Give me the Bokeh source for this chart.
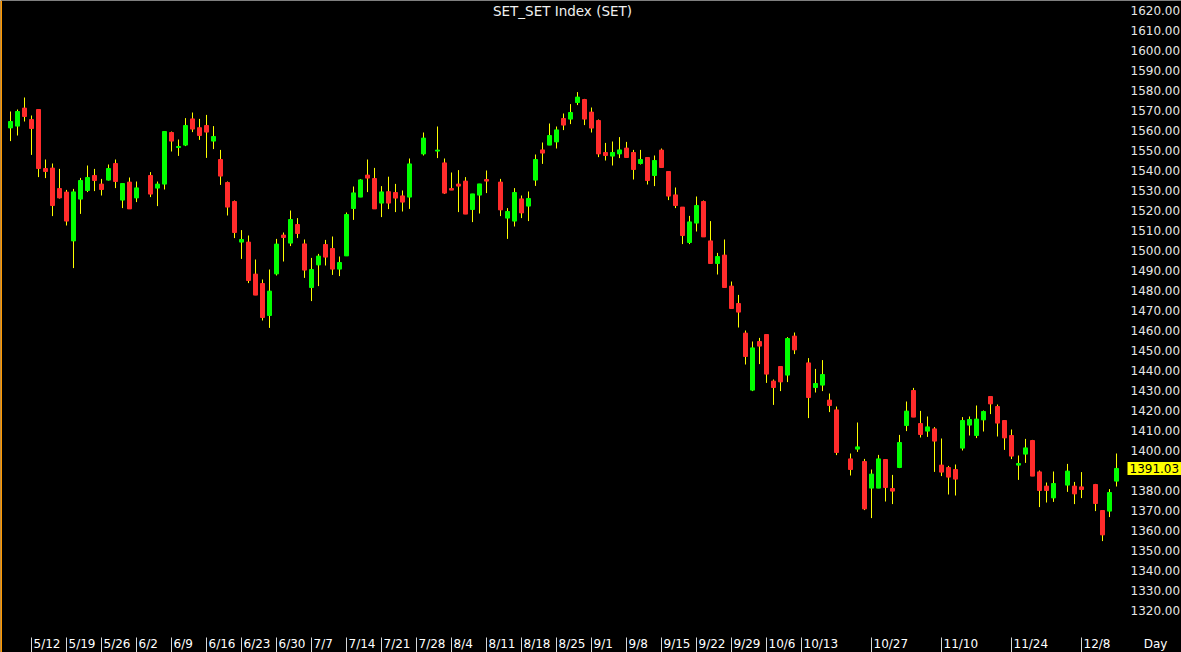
import numpy as np
import pandas as pd
from bokeh.plotting import figure
from bokeh.models import (Range1d, FixedTicker, PrintfTickFormatter, Label, Span,
                          ColumnDataSource, LinearAxis)
from bokeh.core.properties import value
from bokeh.embed import file_html
from bokeh.resources import INLINE

# ---------------- data ----------------
title_text = "SET_SET Index (SET)"
start_date = "2023-05-09"
end_date = "2023-12-15"
holidays = ["2023-06-05", "2023-07-28", "2023-08-01", "2023-08-14",
            "2023-10-13", "2023-10-23", "2023-12-05", "2023-12-11"]

opens = [1561.3, 1562.2, 1571.2, 1565.5, 1570.5, 1541.0, 1541.2, 1531.0, 1529.2, 1504.8,
         1525.7, 1530.0, 1537.5, 1533.2, 1535.2, 1543.5, 1525.2, 1534.2, 1526.3,
         1537.5, 1531.2, 1533.2, 1559.0, 1551.5, 1552.7, 1565.8, 1561.4, 1562.5, 1554.7,
         1545.5, 1534.0, 1524.5, 1504.2, 1504.2, 1488.2, 1483.5, 1467.5, 1488.3, 1507.7,
         1503.7, 1513.0, 1503.3, 1481.5, 1492.8, 1503.0, 1501.0, 1490.7, 1497.3, 1521.0,
         1526.7, 1537.7, 1536.0, 1523.7, 1529.4, 1529.0, 1527.3, 1526.7,
         1548.3,
         1549.7, 1543.8, 1531.0, 1533.2, 1534.7, 1520.5, 1527.7, 1535.5,
         1534.2, 1516.2, 1514.7, 1525.8, 1522.2, 1535.2, 1550.3, 1552.7, 1554.3, 1566.0,
         1565.7, 1574.0, 1575.5, 1569.2, 1565.0, 1549.0, 1547.2, 1548.3, 1551.2, 1549.0,
         1543.5, 1546.5, 1537.5, 1550.2, 1539.5, 1527.8, 1521.7, 1504.0, 1513.7, 1524.5,
         1504.8, 1493.5, 1497.7, 1482.2, 1473.5, 1458.7, 1430.2, 1454.5, 1458.0, 1434.7,
         1442.0, 1437.7, 1457.2,
         1443.8, 1431.5, 1432.7, 1425.2, 1420.3,
         1395.8, 1400.7, 1394.5, 1381.2, 1381.2, 1395.5, 1381.0, 1391.5, 1412.5, 1430.0,
         1413.5, 1409.7, 1410.8, 1392.7, 1391.5, 1390.5, 1401.2, 1412.7, 1407.5, 1415.3,
         1427.0, 1422.0, 1415.0, 1407.5, 1392.7, 1398.2, 1405.0, 1389.3, 1382.2, 1376.3,
         1382.7, 1382.2, 1381.8,
         1383.0, 1370.0, 1369.7, 1384.7]
highs = [1569.5, 1570.5, 1576.5, 1567.5, 1570.5, 1545.5, 1543.5, 1540.8, 1530.3, 1530.8,
         1536.3, 1542.5, 1540.8, 1535.8, 1543.0, 1545.5, 1533.5, 1536.5, 1534.5,
         1539.2, 1534.5, 1559.5, 1559.5, 1555.5, 1566.2, 1569.0, 1565.8, 1567.8, 1562.2,
         1550.3, 1534.5, 1525.0, 1510.2, 1507.5, 1495.5, 1485.5, 1490.5, 1505.8, 1509.0,
         1520.0, 1516.2, 1505.5, 1496.3, 1498.3, 1505.3, 1507.0, 1497.0, 1519.0, 1532.0,
         1535.7, 1545.5, 1541.3, 1532.2, 1536.9, 1533.3, 1530.0, 1546.0,
         1559.0,
         1562.0, 1546.0, 1539.0, 1540.2, 1536.7, 1528.3, 1533.3, 1540.0,
         1535.8, 1521.2, 1531.2, 1527.5, 1529.5, 1548.0, 1554.0, 1563.5, 1562.0, 1568.5,
         1573.2, 1579.2, 1575.8, 1571.5, 1565.5, 1553.8, 1554.5, 1556.7, 1554.3, 1550.3,
         1550.3, 1546.5, 1547.5, 1551.0, 1539.5, 1531.5, 1521.7, 1517.3, 1527.0, 1525.0,
         1514.7, 1498.8, 1505.5, 1484.5, 1477.8, 1460.0, 1454.5, 1456.3, 1458.0, 1435.5,
         1442.0, 1456.7, 1459.0,
         1446.2, 1440.8, 1445.2, 1428.5, 1422.0,
         1398.5, 1414.0, 1395.8, 1390.5, 1397.8, 1395.5, 1387.8, 1407.8, 1424.5, 1431.3,
         1419.8, 1417.0, 1411.7, 1406.0, 1392.3, 1393.0, 1416.7, 1417.0, 1422.5, 1420.0,
         1427.0, 1423.0, 1415.0, 1410.5, 1397.5, 1405.8, 1405.3, 1390.0, 1384.0, 1389.5,
         1393.3, 1384.3, 1389.2,
         1383.3, 1370.0, 1380.7, 1398.5]
lows = [1554.7, 1557.5, 1564.5, 1547.8, 1536.7, 1536.2, 1517.2, 1526.0, 1512.5, 1491.2,
        1518.3, 1529.2, 1529.7, 1527.5, 1535.0, 1531.2, 1521.2, 1520.8, 1524.2,
        1526.7, 1522.2, 1530.5, 1549.5, 1547.3, 1552.2, 1559.2, 1555.3, 1546.3, 1550.7,
        1532.8, 1517.5, 1506.2, 1495.8, 1483.7, 1477.7, 1465.0, 1461.3, 1487.5, 1494.5,
        1502.2, 1506.2, 1486.3, 1474.7, 1482.2, 1492.5, 1487.8, 1487.2, 1497.3, 1515.3,
        1526.7, 1529.2, 1520.8, 1516.7, 1520.7, 1519.2, 1519.5, 1520.8,
        1547.5,
        1546.2, 1528.3, 1530.2, 1519.2, 1518.2, 1514.2, 1518.5, 1528.7,
        1517.2, 1505.8, 1512.0, 1516.2, 1514.7, 1532.3, 1543.3, 1552.7, 1551.0, 1560.2,
        1563.2, 1572.7, 1562.7, 1559.0, 1546.7, 1545.0, 1542.5, 1546.2, 1546.5, 1535.5,
        1543.0, 1533.0, 1532.2, 1541.5, 1525.2, 1521.2, 1503.2, 1503.2, 1509.5, 1506.8,
        1493.5, 1488.0, 1481.5, 1471.0, 1461.5, 1443.0, 1429.7, 1443.2, 1433.8, 1422.8,
        1429.7, 1434.2, 1448.2,
        1416.2, 1429.0, 1429.7, 1419.2, 1397.7,
        1387.5, 1399.3, 1370.2, 1366.2, 1381.2, 1374.5, 1373.2, 1391.2, 1409.7, 1416.7,
        1406.5, 1406.8, 1389.3, 1387.2, 1378.0, 1377.5, 1400.0, 1407.5, 1406.2, 1409.5,
        1418.2, 1407.0, 1400.3, 1395.7, 1385.3, 1393.8, 1387.2, 1371.7, 1374.0, 1374.3,
        1379.3, 1373.2, 1376.2,
        1369.7, 1354.7, 1366.7, 1382.0]
closes = [1564.5, 1569.5, 1567.0, 1561.0, 1541.0, 1539.5, 1522.5, 1526.3, 1514.7, 1529.3,
          1535.0, 1536.5, 1535.0, 1530.5, 1541.0, 1534.5, 1533.5, 1520.8, 1531.3,
          1528.2, 1533.2, 1559.5, 1554.7, 1552.0, 1562.5, 1560.7, 1557.5, 1559.2, 1557.0,
          1537.2, 1521.7, 1509.0, 1505.5, 1485.0, 1477.7, 1466.5, 1479.7, 1503.2, 1506.5,
          1515.5, 1508.5, 1490.2, 1490.5, 1497.2, 1496.7, 1490.7, 1494.0, 1518.0, 1528.8,
          1535.3, 1536.2, 1520.8, 1529.3, 1523.7, 1526.2, 1524.2, 1543.3,
          1556.2,
          1550.2, 1528.7, 1530.2, 1532.2, 1518.2, 1528.3, 1533.3, 1534.7,
          1520.3, 1519.5, 1529.0, 1518.8, 1526.0, 1545.5, 1548.7, 1557.5, 1560.3, 1562.7,
          1569.0, 1576.7, 1565.7, 1561.2, 1548.3, 1547.5, 1549.0, 1550.3, 1546.5, 1540.5,
          1545.5, 1535.0, 1545.0, 1541.5, 1527.2, 1522.5, 1507.5, 1514.3, 1522.5, 1506.8,
          1493.5, 1497.0, 1481.5, 1471.0, 1469.2, 1447.0, 1451.3, 1452.2, 1438.2, 1431.5,
          1434.3, 1456.0, 1450.3,
          1426.5, 1433.5, 1438.0, 1422.5, 1399.0,
          1390.5, 1401.8, 1370.8, 1388.2, 1395.8, 1381.5, 1379.7, 1404.0, 1419.7, 1416.7,
          1408.0, 1411.8, 1404.7, 1389.2, 1386.7, 1385.7, 1415.0, 1415.5, 1415.7, 1419.5,
          1423.3, 1413.7, 1406.3, 1397.2, 1393.5, 1401.3, 1387.2, 1380.0, 1380.0, 1383.5,
          1389.7, 1378.3, 1380.5,
          1373.5, 1357.8, 1379.0, 1391.03]

tick_dates = ["2023-05-12", "2023-05-19", "2023-05-26", "2023-06-02", "2023-06-09",
              "2023-06-16", "2023-06-23", "2023-06-30", "2023-07-07", "2023-07-14",
              "2023-07-21", "2023-07-28", "2023-08-04", "2023-08-11", "2023-08-18",
              "2023-08-25", "2023-09-01", "2023-09-08", "2023-09-15", "2023-09-22",
              "2023-09-29", "2023-10-06", "2023-10-13", "2023-10-27", "2023-11-10",
              "2023-11-24", "2023-12-08"]
y_ticks = list(range(1320, 1621, 10))
period_label = "Day"

# ---------------- derived ----------------
all_days = pd.bdate_range(start_date, end_date)
dates = [d for d in all_days if d.strftime("%Y-%m-%d") not in holidays]
date_str = [d.strftime("%Y-%m-%d") for d in dates]
xs = np.busday_count(start_date, date_str)
o = np.array(opens); h = np.array(highs); l = np.array(lows); c = np.array(closes)
up = c >= o
GREEN, RED, WICK = "#00ff00", "#ff2b2b", "#ffff00"
colors = [GREEN if u else RED for u in up]

src = ColumnDataSource(dict(x=xs, open=o, high=h, low=l, close=c,
                            top=np.maximum(o, c), bottom=np.minimum(o, c), color=colors))

tick_x = np.busday_count(start_date, tick_dates)
tick_txt = [f"{pd.Timestamp(d).month}/{pd.Timestamp(d).day}" for d in tick_dates]

W, H = 1181, 652
SLOT = 7.0                     # px per trading-day slot
FONT = "DejaVu Sans"
X0 = -10.0 / SLOT
X1 = X0 + W / SLOT
Y0, Y1 = 1299.0, 1625.0        # 2 px per index point
AXIS_X = 1126.0 / SLOT + X0    # price scale sits right of the candle area

p = figure(width=W, height=H, x_range=Range1d(X0, X1), y_range=Range1d(Y0, Y1),
           x_axis_location=None, y_axis_location=None, title=None,
           output_backend="svg", toolbar_location=None,
           background_fill_color="#000000", border_fill_color="#000000",
           outline_line_color=None, min_border=0)
p.xgrid.visible = False
p.ygrid.visible = False

ax = LinearAxis(fixed_location=AXIS_X)
ax.ticker = FixedTicker(ticks=y_ticks)
ax.formatter = PrintfTickFormatter(format="%.2f")
ax.axis_line_color = None
ax.major_tick_line_color = None
ax.minor_tick_line_color = None
ax.major_tick_in = 0
ax.major_tick_out = 0
ax.major_label_standoff = 4
ax.major_label_text_color = "#e6e6e6"
ax.major_label_text_font = FONT
ax.major_label_text_font_size = "12px"
p.add_layout(ax, "right")

# candles
p.segment(x0="x", y0="low", x1="x", y1="high", source=src, line_color=WICK, line_width=1)
p.vbar(x="x", width=4.0 / SLOT, top="top", bottom="bottom", source=src,
       fill_color="color", line_color="color", line_width=1)

# date axis (ticks + labels drawn on the data scale)
tsrc = ColumnDataSource(dict(x=tick_x, txt=tick_txt, y0=[1306.5] * len(tick_x), y1=[Y0] * len(tick_x)))
p.segment(x0="x", y0="y0", x1="x", y1="y1", source=tsrc, line_color="#d8d8d8", line_width=1)
p.text(x="x", y=1303.5, text="txt", source=tsrc, x_offset=2, text_align="left",
       text_baseline="middle", text_color="#ffffff", text_font=value(FONT), text_font_size="12px")

p.add_layout(Label(x=1155.0 / SLOT + X0, y=1303.5, text=period_label, text_align="center",
                   text_baseline="middle", text_color="#ffffff", text_font=FONT, text_font_size="12px"))

# title
p.add_layout(Label(x=562.0 / SLOT + X0, y=1620.0, text=title_text, text_align="center",
                   text_baseline="middle", text_color="#f0f0f0", text_font=FONT, text_font_size="13.5px"))

# last price tag
p.add_layout(Label(x=AXIS_X + 1.0 / SLOT, y=closes[-1], text=f"{closes[-1]:.2f}", text_align="left",
                   text_baseline="middle", text_color="#000000", text_font=FONT,
                   text_font_size="12px", background_fill_color="#ffff00", padding=2))

# left edge marker
p.add_layout(Span(location=X0 + 0.5 / SLOT, dimension="height", line_color="#ff9900", line_width=2))

open("out.html", "w").write(file_html(p, INLINE))
